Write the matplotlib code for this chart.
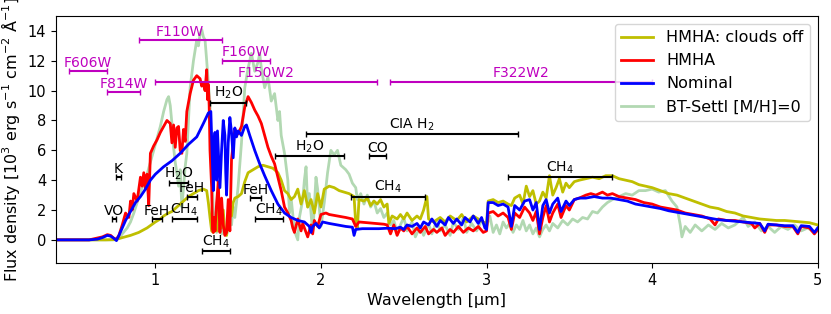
import numpy as np
import matplotlib.pyplot as plt

# Nominal model
wl_nom = [0.40, 0.60, 0.65, 0.68, 0.71, 0.73, 0.75, 0.765, 0.78, 0.80, 0.82, 0.85, 0.88, 0.91, 0.94,
          0.97, 1.00, 1.05, 1.10, 1.15, 1.20, 1.25, 1.29, 1.32, 1.335, 1.345, 1.35, 1.355, 1.36, 1.37,
          1.375, 1.38, 1.39, 1.40, 1.41, 1.42, 1.425, 1.43, 1.44, 1.45, 1.46, 1.47, 1.48, 1.49, 1.50,
          1.52, 1.54, 1.55, 1.57, 1.60, 1.63, 1.66, 1.70, 1.74, 1.78, 1.82, 1.86, 1.90, 1.93, 1.94,
          1.95, 1.97, 1.99, 2.01, 2.05, 2.10, 2.15, 2.19, 2.20, 2.21, 2.25, 2.30, 2.35, 2.40, 2.45,
          2.48, 2.50, 2.52, 2.55, 2.58, 2.60, 2.62, 2.65, 2.67, 2.70, 2.72, 2.75, 2.77, 2.80, 2.82,
          2.85, 2.87, 2.90, 2.92, 2.95, 2.97, 2.99, 3.00, 3.01, 3.04, 3.07, 3.10, 3.13, 3.15, 3.17,
          3.20, 3.23, 3.26, 3.28, 3.30, 3.32, 3.34, 3.36, 3.38, 3.40, 3.43, 3.45, 3.48, 3.50, 3.53,
          3.56, 3.60, 3.65, 3.70, 3.75, 3.80, 3.85, 3.90, 3.95, 4.00, 4.05, 4.10, 4.15, 4.20, 4.25,
          4.30, 4.35, 4.40, 4.45, 4.50, 4.55, 4.60, 4.65, 4.68, 4.70, 4.75, 4.80, 4.85, 4.88, 4.90,
          4.95, 4.98, 5.00]
f_nom = [0.0, 0.0, 0.05, 0.15, 0.3, 0.25, 0.1, -0.05, 0.3, 0.8, 1.3, 1.9, 2.5, 2.9, 3.4,
         4.0, 4.4, 4.9, 5.3, 5.8, 6.4, 6.9, 7.8, 8.5, 8.6, 5.0, 3.3, 6.5, 7.2, 4.0,
         7.3, 6.0, 3.5, 6.0, 8.0, 7.0, 4.5, 3.0, 6.5, 8.2, 7.2, 5.5, 7.5, 6.9, 7.3,
         7.0, 7.6, 7.7, 7.0, 6.0, 5.1, 4.3, 3.3, 2.4, 1.8, 1.5, 1.3, 1.2, 0.9, 0.5,
         0.9, 1.1, 0.8, 1.2, 1.1, 1.0, 0.9, 0.85, 0.3, 0.7, 0.75, 0.75, 0.75, 0.78, 0.75,
         0.85, 0.7, 1.0, 0.9, 1.1, 0.8, 1.2, 1.0, 1.4, 0.9, 1.3, 1.0, 1.5, 1.1, 1.4,
         1.0, 1.5, 1.2, 1.6, 1.1, 1.5, 0.8, 0.7, 2.5, 2.5, 2.3, 2.4, 2.2, 0.9, 2.3,
         2.0, 2.6, 2.7, 2.0, 2.5, 0.7, 2.3, 2.7, 1.8, 2.4, 2.8, 1.9, 2.6, 2.3, 2.7,
         2.8, 2.8, 2.9, 2.8, 2.8, 2.7, 2.6, 2.4, 2.3, 2.2, 2.1, 1.95, 1.85, 1.75, 1.65,
         1.55, 1.45, 1.35, 1.3, 1.25, 1.2, 1.15, 1.1, 0.6, 1.05, 1.0, 0.95, 0.95, 0.5, 0.95,
         0.9, 0.5, 0.8]

# HMHA model
wl_hmha = [0.40, 0.60, 0.64, 0.68, 0.71, 0.73, 0.75, 0.765, 0.78, 0.80, 0.82, 0.84, 0.85, 0.86, 0.87,
           0.89, 0.91, 0.92, 0.93, 0.94, 0.95, 0.96, 0.97, 0.99, 1.01, 1.03, 1.05, 1.07, 1.09, 1.10,
           1.11, 1.12, 1.13, 1.14, 1.15, 1.16, 1.17, 1.18, 1.19, 1.21, 1.23, 1.25, 1.27, 1.28, 1.29,
           1.30, 1.31, 1.315, 1.32, 1.325, 1.33, 1.34, 1.345, 1.35, 1.355, 1.36, 1.37, 1.38, 1.385, 1.39,
           1.40, 1.41, 1.42, 1.43, 1.44, 1.45, 1.46, 1.48, 1.50, 1.52, 1.54, 1.56, 1.58, 1.60, 1.62,
           1.64, 1.66, 1.68, 1.70, 1.72, 1.74, 1.76, 1.78, 1.80, 1.82, 1.83, 1.84, 1.86, 1.88, 1.89,
           1.91, 1.92, 1.94, 1.95, 1.96, 1.98, 2.00, 2.03, 2.05, 2.10, 2.15, 2.19, 2.21, 2.23, 2.28,
           2.33, 2.38, 2.40, 2.42, 2.44, 2.46, 2.48, 2.50, 2.52, 2.55, 2.58, 2.60, 2.63, 2.65, 2.68,
           2.70, 2.73, 2.75, 2.78, 2.80, 2.83, 2.86, 2.89, 2.92, 2.95, 2.98, 3.00, 3.01, 3.04, 3.07,
           3.10, 3.13, 3.15, 3.17, 3.20, 3.23, 3.26, 3.28, 3.30, 3.32, 3.34, 3.36, 3.38, 3.40, 3.43,
           3.45, 3.48, 3.50, 3.53, 3.56, 3.60, 3.63, 3.66, 3.70, 3.73, 3.76, 3.80, 3.85, 3.90, 3.95,
           4.00, 4.05, 4.10, 4.15, 4.20, 4.25, 4.30, 4.35, 4.38, 4.40, 4.45, 4.50, 4.55, 4.60, 4.62,
           4.65, 4.68, 4.70, 4.75, 4.80, 4.85, 4.88, 4.90, 4.95, 4.98, 5.00]
f_hmha = [0.0, 0.0, 0.1, 0.2, 0.35, 0.3, 0.1, 0.05, 0.3, 1.0, 1.8, 1.5, 2.6, 2.0, 3.1,
          2.6, 4.2, 3.6, 4.5, 3.4, 4.4, 2.3, 5.8, 6.3, 6.7, 7.2, 7.6, 8.0, 7.8, 6.5,
          7.7, 6.2, 7.5, 7.6, 6.0, 5.8, 7.4, 6.6, 8.6, 9.8, 10.7, 11.0, 10.8, 10.3, 10.5,
          10.0, 11.4, 9.4, 10.4, 9.0, 6.0, 3.5, 0.7, 0.5, 1.5, 0.6, 2.5, 3.9, 2.0, 0.5,
          2.8, 1.0, 0.3, 0.5, 2.7, 0.6, 5.4, 7.4, 7.1, 7.6, 8.9, 9.6, 9.2, 8.7, 8.3,
          7.8, 7.0, 6.2, 5.6, 5.1, 4.2, 3.3, 2.2, 1.8, 1.3, 0.8, 0.5, 1.4, 0.6, 1.1,
          0.5, 0.2, 1.0, 0.4, 1.3, 0.9, 1.7, 1.8, 1.7, 1.6, 1.5, 1.4, 0.9, 1.2, 1.15,
          1.1, 1.05, 1.0, 0.4, 1.0, 0.3, 0.8, 0.6, 0.9, 0.4, 0.8, 0.5, 0.9, 0.4, 0.7,
          0.5, 0.8, 0.3, 0.7, 0.5, 0.9, 0.5, 0.8, 0.6, 0.9, 0.5, 0.6, 1.8, 1.9, 1.6,
          1.8, 1.5, 0.7, 1.8, 1.5, 2.2, 1.8, 1.3, 1.9, 0.4, 1.5, 2.3, 1.2, 1.8, 2.4,
          1.5, 2.3, 2.0, 2.7, 2.8, 3.0, 3.1, 3.0, 3.2, 3.0, 3.1, 2.9, 2.8, 2.7, 2.5,
          2.4, 2.2, 2.1, 2.0, 1.8, 1.7, 1.6, 1.4, 1.0, 1.4, 1.3, 1.3, 1.2, 1.1, 0.8,
          1.1, 0.5, 1.0, 1.0, 0.9, 0.9, 0.4, 0.9, 0.8, 0.4, 0.7]

# HMHA with clouds off
wl_noclouds = [0.40, 0.70, 0.76, 0.80, 0.85, 0.90, 0.95, 1.00, 1.03, 1.05, 1.08, 1.10, 1.13, 1.15, 1.18,
               1.20, 1.23, 1.26, 1.29, 1.31, 1.32, 1.33, 1.34, 1.35, 1.36, 1.37, 1.38, 1.39, 1.40, 1.41,
               1.42, 1.43, 1.44, 1.45, 1.46, 1.47, 1.48, 1.50, 1.52, 1.54, 1.56, 1.59, 1.62, 1.65, 1.68,
               1.71, 1.74, 1.76, 1.78, 1.80, 1.82, 1.84, 1.86, 1.88, 1.90, 1.92, 1.94, 1.96, 1.98, 2.00,
               2.02, 2.05, 2.08, 2.11, 2.14, 2.17, 2.20, 2.21, 2.22, 2.23, 2.26, 2.28, 2.30, 2.32, 2.34,
               2.36, 2.38, 2.40, 2.41, 2.43, 2.46, 2.48, 2.50, 2.52, 2.55, 2.58, 2.60, 2.62, 2.64, 2.65,
               2.68, 2.72, 2.75, 2.78, 2.82, 2.85, 2.88, 2.92, 2.95, 2.98, 3.00, 3.01, 3.04, 3.07, 3.10,
               3.13, 3.15, 3.17, 3.20, 3.22, 3.24, 3.26, 3.28, 3.30, 3.32, 3.34, 3.36, 3.38, 3.40, 3.42,
               3.44, 3.46, 3.48, 3.50, 3.53, 3.56, 3.60, 3.64, 3.68, 3.72, 3.76, 3.80, 3.84, 3.88, 3.92,
               3.96, 4.00, 4.05, 4.10, 4.15, 4.20, 4.25, 4.30, 4.35, 4.40, 4.45, 4.50, 4.55, 4.60, 4.65,
               4.70, 4.75, 4.80, 4.85, 4.90, 4.95, 5.00]
f_noclouds = [0.0, 0.0, 0.02, 0.15, 0.3, 0.5, 0.8, 1.2, 1.4, 1.6, 1.8, 1.9, 2.2, 2.4, 2.7,
              2.9, 3.1, 3.3, 3.4, 3.3, 2.5, 1.5, 0.6, 0.5, 1.2, 0.6, 2.0, 1.0, 0.8, 2.0,
              0.4, 0.3, 1.5, 2.3, 1.6, 2.5, 2.8, 2.9, 3.1, 3.9, 4.5, 4.7, 4.9, 5.0, 4.9,
              4.8, 4.5, 4.0, 3.3, 3.1, 2.7, 2.9, 3.4, 2.4, 3.3, 2.2, 2.7, 1.8, 3.1, 2.2,
              3.4, 3.6, 3.5, 3.3, 3.2, 3.1, 2.9, 1.1, 0.8, 2.7, 2.6, 2.8, 2.3, 2.6, 2.4,
              2.7, 2.2, 2.4, 1.1, 1.6, 1.4, 1.7, 1.4, 1.8, 1.3, 1.6, 1.4, 2.0, 2.9, 1.4,
              1.2, 1.5, 1.2, 1.6, 1.3, 1.7, 1.2, 1.6, 1.4, 1.2, 1.1, 2.6, 2.7, 2.5, 2.6,
              2.4, 2.3, 2.8, 3.0, 2.4, 3.6, 2.9, 3.3, 2.4, 2.6, 3.2, 2.8, 4.3, 3.0, 3.5,
              4.1, 3.2, 3.8, 3.5, 3.9, 4.0, 4.1, 4.2, 4.1, 4.3, 4.3, 4.1, 4.0, 3.9, 3.7,
              3.6, 3.5, 3.3, 3.1, 3.0, 2.8, 2.6, 2.4, 2.2, 2.1, 1.9, 1.8, 1.6, 1.5, 1.4,
              1.35, 1.3, 1.3, 1.25, 1.2, 1.15, 1.0]

# BT-Settl [M/H]=0
wl_settl = [0.40, 0.75, 0.78, 0.80, 0.83, 0.85, 0.87, 0.89, 0.91, 0.93, 0.95, 0.97, 0.99, 1.01, 1.03,
            1.05, 1.07, 1.08, 1.09, 1.10, 1.11, 1.12, 1.13, 1.14, 1.15, 1.16, 1.17, 1.18, 1.19, 1.20,
            1.21, 1.23, 1.25, 1.26, 1.27, 1.28, 1.29, 1.30, 1.31, 1.32, 1.33, 1.34, 1.35, 1.36, 1.37,
            1.38, 1.39, 1.40, 1.41, 1.42, 1.43, 1.44, 1.45, 1.46, 1.47, 1.48, 1.49, 1.50, 1.52, 1.54,
            1.56, 1.58, 1.60, 1.62, 1.63, 1.64, 1.66, 1.68, 1.70, 1.72, 1.74, 1.75, 1.76, 1.78, 1.80,
            1.81, 1.82, 1.84, 1.86, 1.87, 1.89, 1.90, 1.91, 1.92, 1.93, 1.95, 1.96, 1.97, 1.98, 2.00,
            2.02, 2.04, 2.06, 2.08, 2.10, 2.12, 2.13, 2.15, 2.17, 2.19, 2.21, 2.22, 2.24, 2.26, 2.28,
            2.30, 2.32, 2.34, 2.36, 2.38, 2.40, 2.42, 2.44, 2.46, 2.48, 2.50, 2.52, 2.55, 2.57, 2.60,
            2.62, 2.65, 2.67, 2.70, 2.72, 2.75, 2.78, 2.80, 2.83, 2.86, 2.88, 2.91, 2.94, 2.97, 3.00,
            3.02, 3.04, 3.06, 3.08, 3.10, 3.12, 3.14, 3.16, 3.18, 3.20, 3.22, 3.24, 3.26, 3.28, 3.30,
            3.32, 3.34, 3.36, 3.38, 3.40, 3.43, 3.46, 3.49, 3.52, 3.55, 3.58, 3.61, 3.64, 3.67, 3.70,
            3.73, 3.76, 3.80, 3.84, 3.88, 3.92, 3.96, 4.00, 4.04, 4.08, 4.12, 4.15, 4.17, 4.18, 4.20,
            4.23, 4.26, 4.30, 4.34, 4.38, 4.42, 4.46, 4.50, 4.55, 4.58, 4.62, 4.66, 4.70, 4.74, 4.78,
            4.82, 4.86, 4.90, 4.94, 4.98, 5.00]
f_settl = [0.0, 0.0, 0.1, 0.4, 0.8, 1.2, 1.8, 2.5, 3.2, 3.8, 4.4, 5.2, 6.0, 6.8, 7.6,
           8.6, 9.4, 9.6, 9.0, 7.8, 6.2, 5.2, 4.5, 3.6, 4.7, 2.2, 3.5, 4.9, 5.8, 8.0,
           10.2, 12.0, 13.4, 13.0, 13.8, 14.1, 13.6, 13.4, 12.0, 10.5, 9.0, 5.0, 2.0, 1.0, 0.5,
           1.5, 0.8, 0.4, 1.2, 0.6, 0.3, 0.8, 1.5, 1.0, 2.2, 1.5, 2.5, 3.6, 6.5, 10.2,
           11.5, 12.5, 11.3, 11.9, 12.5, 11.5, 10.2, 10.9, 9.3, 9.8, 8.0, 8.6, 7.0, 5.8, 4.0,
           1.8, 2.8, 0.6, 0.0, 1.5, 2.7, 4.0, 4.9, 2.2, 3.1, 0.5, 2.2, 4.2, 3.4, 0.9,
           2.5, 4.5, 6.0, 5.7, 6.0, 5.0, 4.9, 4.7, 4.4, 3.8, 3.5, 2.7, 3.1, 2.4, 3.0,
           2.2, 2.6, 1.8, 2.1, 1.5, 1.8, 1.0, 1.3, 0.5, 1.0, 1.5, 0.6, 1.2, 0.2, 0.9,
           0.3, 1.1, 0.4, 1.3, 0.6, 1.0, 0.3, 1.2, 0.7, 1.5, 0.5, 1.1, 0.6, 1.3, 0.9,
           1.6, 0.5, 1.0, 0.4, 1.2, 0.8, 1.1, 0.5, 1.0, 0.7, 1.3, 0.6, 1.0, 0.4, 0.8,
           0.2, 0.7, 1.0, 0.6, 1.1, 0.8, 1.3, 1.0, 1.4, 1.2, 1.5, 1.4, 1.9, 1.8, 2.2,
           2.5, 2.7, 2.9, 3.1, 3.0, 3.3, 3.3, 3.4, 3.2, 3.3, 2.6, 2.2, 1.0, 0.2, 0.9,
           0.5, 1.0, 0.6, 1.0, 0.7, 1.1, 0.8, 1.0, 1.5, 0.9, 1.2, 0.6, 0.9, 0.5, 0.9,
           0.7, 1.0, 0.6, 0.8, 0.5, 0.6]

# absorption features: label, start, end, height
feat_names = ["K", "VO", "FeH", "CH$_4$", "H$_2$O", "FeH", "CH$_4$", "H$_2$O", "FeH", "CH$_4$",
              "H$_2$O", "CIA H$_2$", "CO", "CH$_4$", "CH$_4$"]
feat_lo = [0.76, 0.74, 0.98, 1.10, 1.08, 1.19, 1.28, 1.33, 1.57, 1.60, 1.72, 1.91, 2.29, 2.18, 3.13]
feat_hi = [0.79, 0.765, 1.04, 1.25, 1.20, 1.25, 1.45, 1.55, 1.64, 1.77, 2.14, 3.19, 2.39, 2.63, 3.76]
feat_y = [4.2, 1.4, 1.4, 1.4, 3.8, 2.9, -0.75, 9.2, 2.8, 1.4, 5.6, 7.1, 5.6, 2.9, 4.2]

# photometric filters
filt_names = ["F606W", "F814W", "F110W", "F160W", "F150W2", "F322W2"]
filt_lo = [0.476, 0.705, 0.90, 1.40, 1.00, 2.42]
filt_hi = [0.71, 0.91, 1.40, 1.69, 2.34, 4.00]
filt_y = [11.3, 9.9, 13.4, 12.0, 10.6, 10.6]

plt.rcParams['font.size'] = 10
fig = plt.figure(figsize=(8.31, 3.14), dpi=100)
ax = fig.add_axes([0.0674, 0.1624, 0.9166, 0.7866])

ax.plot(wl_settl, f_settl, color='g', alpha=0.3, lw=2, label="BT-Settl [M/H]=0")
ax.plot(wl_noclouds, f_noclouds, color='y', lw=2, label="HMHA: clouds off")
ax.plot(wl_hmha, f_hmha, color='r', lw=2, label="HMHA")
ax.plot(wl_nom, f_nom, color='b', lw=2, label="Nominal")

for name, lo, hi, y in zip(feat_names, feat_lo, feat_hi, feat_y):
    mid = (lo + hi) / 2
    ax.errorbar(mid, y, xerr=(hi - lo) / 2, fmt='none', ecolor='k', elinewidth=1.5, capsize=2)
    ax.annotate(name, (mid, y), xytext=(0, 1), textcoords='offset points', ha='center', va='bottom')

for name, lo, hi, y in zip(filt_names, filt_lo, filt_hi, filt_y):
    mid = (lo + hi) / 2
    ax.errorbar(mid, y, xerr=(hi - lo) / 2, fmt='none', ecolor='m', elinewidth=1.5, capsize=2)
    ax.annotate(name, (mid, y), xytext=(0, 1), textcoords='offset points', ha='center', va='bottom',
                color='m')

handles, labels = ax.get_legend_handles_labels()
order = [1, 2, 3, 0]
ax.legend([handles[i] for i in order], [labels[i] for i in order], loc='upper right', fontsize=11.5)

ax.set_xlim(0.4, 5.0)
ax.set_ylim(-1.55, 15)
ax.set_xticks([1, 2, 3, 4, 5])
ax.set_yticks([0, 2, 4, 6, 8, 10, 12, 14])
ax.tick_params(labelsize=10.5)
ax.set_xlabel("Wavelength [µm]", fontsize=11.5)
ax.set_ylabel("Flux density [10$^3$ erg s$^{-1}$ cm$^{-2}$ Å$^{-1}$]", fontsize=11.5)

fig.savefig("out.png", dpi=100)
